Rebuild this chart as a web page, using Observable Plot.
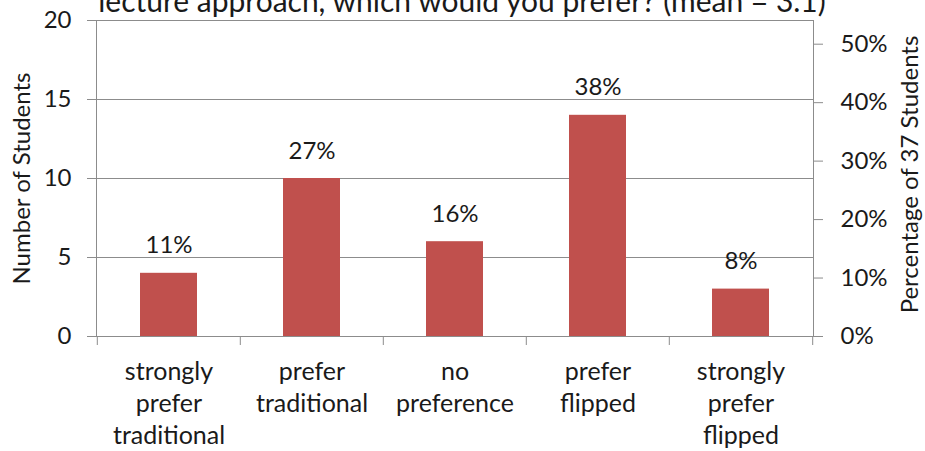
<!DOCTYPE html>
<html><head><meta charset="utf-8">
<script src="https://cdn.jsdelivr.net/npm/d3@7"></script>
<script src="https://cdn.jsdelivr.net/npm/@observablehq/plot@0.6"></script>
<style>
body { margin: 0; background: white; }
#chart { width: 925px; height: 451px; overflow: hidden; }
</style></head>
<body><div id="chart"></div>
<script>
// Survey responses: preferred lecture format, 37 students
const categories = ["strongly prefer traditional", "prefer traditional", "no preference", "prefer flipped", "strongly prefer flipped"];
const categoryLabels = ["strongly\nprefer\ntraditional", "prefer\ntraditional", "no\npreference", "prefer\nflipped", "strongly\nprefer\nflipped"];
const counts = [4, 10, 6, 14, 3];
const totalStudents = 37;
const countTicks = [0, 5, 10, 15, 20];
const percentTicks = [0, 10, 20, 30, 40, 50];
const titleText = "lecture approach, which would you prefer? (mean = 3.1)";

const W = 925, H = 451, ML = 96, MR = 112, MT = 20, MB = 115;
const step = (W - ML - MR) / categories.length;
const rows = categories.map((c, i) => ({
  category: c,
  label: categoryLabels[i],
  count: counts[i],
  pct: Math.round(counts[i] / totalStudents * 100)
}));
const grid = "#8c8c8c";
const ink = "#1a1a1a";
const font = "Lato, sans-serif";

const chart = Plot.plot({
  width: W, height: H,
  marginLeft: ML, marginRight: MR, marginTop: MT, marginBottom: MB,
  style: {fontFamily: font, fontSize: "24px", color: ink, background: "white"},
  x: {domain: categories, paddingInner: 0.6, paddingOuter: 0.3, axis: null},
  y: {domain: [0, 20], axis: null},
  marks: [
    Plot.ruleY(countTicks.slice(1), {stroke: grid, strokeWidth: 1}),
    Plot.frame({stroke: grid}),
    Plot.barY(rows, {x: "category", y: "count", fill: "#C0504D"}),
    Plot.text(rows, {x: "category", y: "count", text: d => d.pct + "%", lineAnchor: "bottom", dy: -20, fontSize: 24, fill: ink}),
    Plot.axisY({anchor: "left", ticks: countTicks, tickSize: 9, tickPadding: 16, label: null, stroke: grid, fill: ink, fontSize: 24}),
    Plot.axisY({anchor: "right", ticks: percentTicks.map(p => p * totalStudents / 100),
      tickFormat: d => Math.round(d / totalStudents * 100) + "%",
      tickSize: 9, tickPadding: 18, label: null, stroke: grid, fill: ink, fontSize: 24}),
    // category separators hanging below the baseline
    Plot.ruleX(rows, {x: "category", y1: 0, y2: 0, dx: -step / 2, insetBottom: -9, stroke: grid}),
    Plot.ruleX(rows.slice(-1), {x: "category", y1: 0, y2: 0, dx: step / 2, insetBottom: -9, stroke: grid}),
    Plot.text(rows, {x: "category", text: "label", frameAnchor: "bottom", lineAnchor: "top", dy: 21, lineHeight: 1.28, fontSize: 25, fill: ink}),
    Plot.text([titleText], {text: d => d, frameAnchor: "top", lineAnchor: "bottom", dx: 7, dy: -9, fontSize: 30, fill: ink}),
    Plot.text(["Number of Students"], {text: d => d, frameAnchor: "left", textAnchor: "middle", rotate: -90, dx: -74, fontSize: 24, fill: ink}),
    Plot.text(["Percentage of 37 Students"], {text: d => d, frameAnchor: "right", textAnchor: "middle", rotate: -90, dx: 97, dy: -4, fontSize: 24, fill: ink})
  ]
});
document.getElementById("chart").append(chart);
</script>
</body></html>
